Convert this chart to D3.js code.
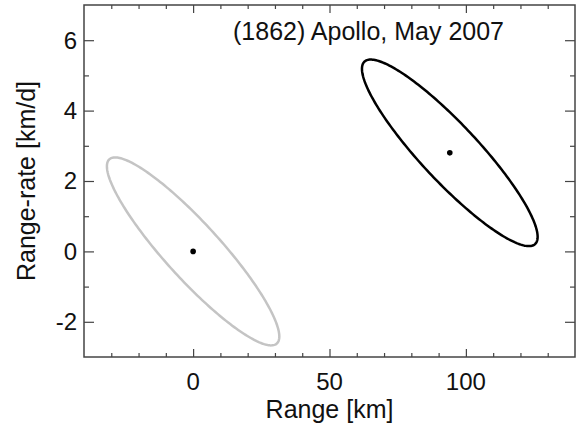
<!DOCTYPE html>
<html>
<head>
<meta charset="utf-8">
<script src="https://cdn.jsdelivr.net/npm/d3@7/dist/d3.min.js"></script>
<style>
  body { margin: 0; background: #fff; }
  text { font-family: "Liberation Sans", Arial, Helvetica, sans-serif; fill: #111; }
</style>
</head>
<body>
<div id="chart"></div>
<script>
// error ellipses: centre, half extents along each axis, correlation
const centerRange = [0, 94.1];
const centerRate = [0, 2.8];
const halfRange = [31.6, 32.2];
const halfRate = [2.67, 2.65];
const correlation = [-0.905, -0.9];

const xMajorTicks = [0, 50, 100];
const xMinorTicks = [-30, -20, -10, 10, 20, 30, 40, 60, 70, 80, 90, 110, 120, 130];
const yMajorTicks = [-2, 0, 2, 4, 6];
const yMinorTicks = [-1, 1, 3, 5];

const titleText = '(1862) Apollo, May 2007';
const xLabel = 'Range [km]';
const yLabel = 'Range-rate [km/d]';

const width = 579;
const height = 426;
const margin = { top: 5, right: 4, bottom: 69, left: 84 };

const ellipseColors = ['#c4c4c4', '#000'];

const svg = d3.select('#chart')
  .append('svg')
  .attr('width', width)
  .attr('height', height);

const x = d3.scaleLinear()
  .domain([-40, 140])
  .range([margin.left, width - margin.right]);

const y = d3.scaleLinear()
  .domain([-3, 7])
  .range([height - margin.bottom, margin.top]);

const axisColor = '#444';

// inward ticks on all four sides
const addTicks = (axisFn, scale, ticks, size, transform) => {
  svg.append('g')
    .attr('transform', transform)
    .call(axisFn(scale).tickValues(ticks).tickSize(size).tickFormat(''))
    .call((g) => g.select('.domain').remove())
    .call((g) => g.selectAll('.tick line').attr('stroke', axisColor).attr('stroke-width', 1.2));
};

const x0 = margin.left;
const x1 = width - margin.right;
const y0 = height - margin.bottom;
const y1 = margin.top;

addTicks(d3.axisTop, x, xMajorTicks, 8, `translate(0,${y0})`);
addTicks(d3.axisTop, x, xMinorTicks, 4, `translate(0,${y0})`);
addTicks(d3.axisBottom, x, xMajorTicks, 8, `translate(0,${y1})`);
addTicks(d3.axisBottom, x, xMinorTicks, 4, `translate(0,${y1})`);
addTicks(d3.axisRight, y, yMajorTicks, 10, `translate(${x0},0)`);
addTicks(d3.axisRight, y, yMinorTicks, 5, `translate(${x0},0)`);
addTicks(d3.axisLeft, y, yMajorTicks, 10, `translate(${x1},0)`);
addTicks(d3.axisLeft, y, yMinorTicks, 5, `translate(${x1},0)`);

// frame
svg.append('rect')
  .attr('x', x0)
  .attr('y', y1)
  .attr('width', x1 - x0)
  .attr('height', y0 - y1)
  .attr('fill', 'none')
  .attr('stroke', axisColor)
  .attr('stroke-width', 1.5);

// tick labels
svg.append('g')
  .selectAll('text')
  .data(xMajorTicks)
  .join('text')
  .attr('x', (d) => x(d))
  .attr('y', 390)
  .attr('text-anchor', 'middle')
  .attr('font-size', 24)
  .text((d) => d);

svg.append('g')
  .selectAll('text')
  .data(yMajorTicks)
  .join('text')
  .attr('x', x0 - 7)
  .attr('y', (d) => y(d))
  .attr('dy', '0.35em')
  .attr('text-anchor', 'end')
  .attr('font-size', 24)
  .text((d) => d);

// axis titles
svg.append('text')
  .attr('x', (x0 + x1) / 2)
  .attr('y', 418)
  .attr('text-anchor', 'middle')
  .attr('font-size', 25)
  .text(xLabel);

svg.append('text')
  .attr('transform', `translate(35,${(y0 + y1) / 2}) rotate(-90)`)
  .attr('text-anchor', 'middle')
  .attr('font-size', 25)
  .text(yLabel);

svg.append('text')
  .attr('x', 233)
  .attr('y', 40)
  .attr('font-size', 25)
  .text(titleText);

// ellipses
const line = d3.line()
  .x((d) => x(d[0]))
  .y((d) => y(d[1]))
  .curve(d3.curveLinearClosed);

const angles = d3.range(0, 2 * Math.PI, Math.PI / 120);

centerRange.forEach((cx, i) => {
  const cy = centerRate[i];
  const phase = Math.acos(correlation[i]);
  const pts = angles.map((t) => [cx + halfRange[i] * Math.cos(t), cy + halfRate[i] * Math.cos(t + phase)]);

  svg.append('path')
    .attr('d', line(pts))
    .attr('fill', 'none')
    .attr('stroke', ellipseColors[i])
    .attr('stroke-width', 2.5);

  svg.append('circle')
    .attr('cx', x(cx))
    .attr('cy', y(cy))
    .attr('r', 2.8)
    .attr('fill', '#000');
});
</script>
</body>
</html>
